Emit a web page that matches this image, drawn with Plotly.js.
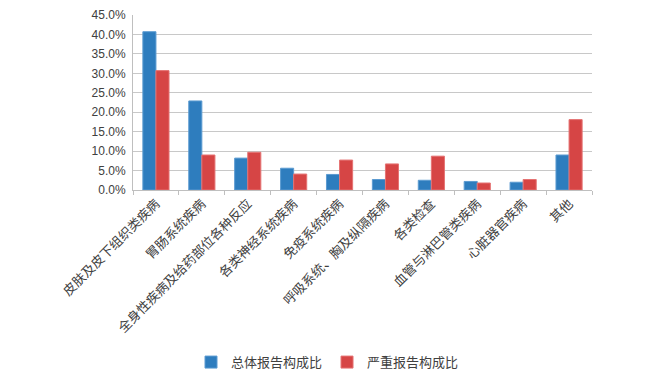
<!DOCTYPE html>
<html>
<head>
<meta charset="utf-8">
<script src="https://cdn.plot.ly/plotly-3.0.1.min.js"></script>
<style>html,body{margin:0;padding:0;background:#fff;}#chart{width:655px;height:380px;}</style>
</head>
<body>
<div id="chart"></div>
<script>
const categories = ["皮肤及皮下组织类疾病","胃肠系统疾病","全身性疾病及给药部位各种反应","各类神经系统疾病","免疫系统疾病","呼吸系统、胸及纵隔疾病","各类检查","血管与淋巴管类疾病","心脏器官疾病","其他"];
const seriesNames = ["总体报告构成比","严重报告构成比"];
const totalValues = [40.7, 22.9, 8.2, 5.6, 4.0, 2.7, 2.5, 2.2, 2.0, 9.0];
const seriousValues = [30.7, 9.0, 9.7, 4.1, 7.7, 6.7, 8.7, 1.8, 2.7, 18.1];
const tickVals = [0,5,10,15,20,25,30,35,40,45];
const tickText = ["0.0%","5.0%","10.0%","15.0%","20.0%","25.0%","30.0%","35.0%","40.0%","45.0%"];

const traces = [
  {type:'bar', name:seriesNames[0], x:categories, y:totalValues,
   marker:{color:'#2E7DBE', line:{color:'#5C9BD1', width:1}}},
  {type:'bar', name:seriesNames[1], x:categories, y:seriousValues,
   marker:{color:'#D64545', line:{color:'#E57373', width:1}}}
];
const layout = {
  width:655, height:380,
  margin:{l:133, r:63, t:15, b:190, autoexpand:false},
  paper_bgcolor:'#fff', plot_bgcolor:'#fff',
  barmode:'group', bargap:0.43, bargroupgap:0,
  showlegend:true,
  legend:{orientation:'h', xref:'container', yref:'container', x:0.5, xanchor:'center', y:0.047, yanchor:'middle',
    font:{family:'"Noto Sans CJK SC", sans-serif', size:13, color:'#404040'},
    itemwidth:30, traceorder:'normal'},
  xaxis:{type:'category', tickangle:-45, showline:true, linecolor:'#bfbfbf', linewidth:1,
    ticks:'outside', ticklen:4, tickcolor:'#bfbfbf', tickson:'boundaries',
    showgrid:false, automargin:false,
    tickfont:{family:'"Noto Sans CJK SC", serif', size:13, color:'#404040'}},
  yaxis:{range:[0,45], tickvals:tickVals, ticktext:tickText, showgrid:true,
    gridcolor:'#c8c8c8', gridwidth:1, showline:true, linecolor:'#bfbfbf', linewidth:1,
    ticks:'', zeroline:false, automargin:false, ticklabelstandoff:4,
    tickfont:{family:'"Liberation Sans", Arial, sans-serif', size:12, color:'#404040'}}
};
Plotly.newPlot('chart', traces, layout, {displayModeBar:false, staticPlot:true});
</script>
</body>
</html>
